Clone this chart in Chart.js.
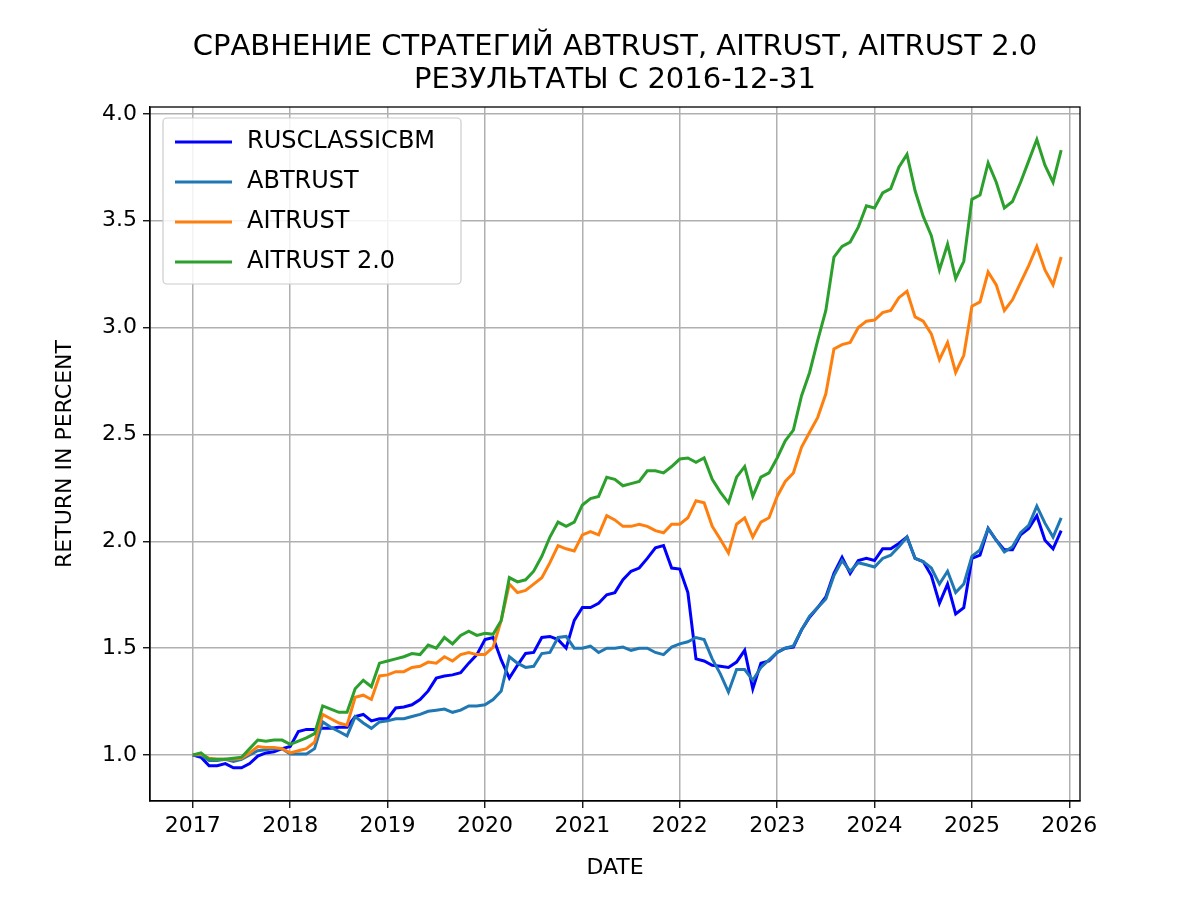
<!DOCTYPE html>
<html><head><meta charset="utf-8">
<script src="https://cdn.jsdelivr.net/npm/chart.js@4.4.1/dist/chart.umd.min.js"></script>
<style>body{margin:0;background:#fff}canvas{display:block}</style>
</head><body>
<canvas id="c" width="1200" height="900"></canvas>
<script>
const startYear = 2017; // first point 2016-12-31, monthly
const xTicks = [2017,2018,2019,2020,2021,2022,2023,2024,2025,2026];
const yTicks = [1.0,1.5,2.0,2.5,3.0,3.5,4.0];
const titleLines = ["СРАВНЕНИЕ СТРАТЕГИЙ ABTRUST, AITRUST, AITRUST 2.0","РЕЗУЛЬТАТЫ С 2016-12-31"];
const seriesNames = ["RUSCLASSICBM","ABTRUST","AITRUST","AITRUST 2.0"];
const rusclassic = [
1.0,0.99,0.95,0.95,0.96,0.94,0.94,0.96,0.995,1.01,1.015,1.03,
1.04,1.11,1.12,1.12,1.125,1.125,1.13,1.13,1.18,1.19,1.16,1.17,
1.17,1.22,1.225,1.235,1.26,1.30,1.36,1.37,1.375,1.385,1.43,1.47,
1.54,1.55,1.445,1.36,1.42,1.475,1.48,1.55,1.555,1.54,1.50,1.63,
1.69,1.69,1.71,1.75,1.76,1.82,1.86,1.875,1.92,1.97,1.98,1.875,
1.87,1.76,1.45,1.44,1.42,1.415,1.41,1.435,1.49,1.31,1.43,1.44,
1.48,1.50,1.505,1.585,1.645,1.69,1.74,1.85,1.925,1.85,1.91,1.92,
1.91,1.965,1.965,1.99,2.02,1.92,1.905,1.84,1.71,1.80,1.66,1.69,
1.92,1.935,2.06,2.005,1.96,1.96,2.03,2.06,2.12,2.005,1.965,2.05];
const abtrust = [
1.0,1.0,0.975,0.975,0.98,0.97,0.98,1.0,1.02,1.025,1.03,1.03,
1.005,1.005,1.005,1.03,1.155,1.13,1.11,1.09,1.18,1.15,1.125,1.155,
1.16,1.17,1.17,1.18,1.19,1.205,1.21,1.215,1.20,1.21,1.23,1.23,
1.235,1.26,1.30,1.46,1.43,1.41,1.415,1.475,1.48,1.55,1.555,1.50,
1.50,1.51,1.48,1.50,1.50,1.505,1.49,1.50,1.50,1.48,1.47,1.505,
1.52,1.53,1.55,1.54,1.45,1.38,1.295,1.40,1.40,1.35,1.41,1.445,
1.48,1.50,1.51,1.585,1.65,1.69,1.73,1.84,1.91,1.86,1.90,1.89,
1.88,1.92,1.935,1.975,2.02,1.92,1.905,1.875,1.80,1.86,1.76,1.80,
1.93,1.96,2.06,2.005,1.95,1.975,2.04,2.075,2.165,2.085,2.02,2.11];
const aitrust = [
1.0,1.005,0.985,0.98,0.98,0.98,0.985,1.01,1.04,1.035,1.035,1.03,
1.01,1.02,1.03,1.06,1.19,1.17,1.15,1.14,1.27,1.28,1.26,1.37,
1.375,1.39,1.39,1.41,1.415,1.435,1.43,1.46,1.44,1.47,1.48,1.47,
1.47,1.505,1.63,1.80,1.76,1.77,1.80,1.83,1.90,1.98,1.965,1.955,
2.03,2.045,2.03,2.12,2.10,2.07,2.07,2.08,2.07,2.05,2.04,2.08,
2.08,2.11,2.19,2.18,2.07,2.01,1.945,2.08,2.11,2.02,2.09,2.11,
2.21,2.28,2.32,2.44,2.51,2.58,2.69,2.90,2.92,2.93,3.00,3.03,
3.035,3.07,3.08,3.14,3.17,3.05,3.03,2.97,2.85,2.93,2.79,2.87,
3.10,3.12,3.26,3.20,3.08,3.13,3.21,3.29,3.38,3.27,3.20,3.33];
const aitrust2 = [
1.0,1.01,0.98,0.98,0.98,0.985,0.99,1.03,1.07,1.065,1.07,1.07,
1.05,1.065,1.08,1.10,1.23,1.215,1.20,1.20,1.31,1.35,1.32,1.43,
1.44,1.45,1.46,1.475,1.47,1.515,1.50,1.55,1.52,1.56,1.58,1.56,
1.57,1.565,1.63,1.83,1.81,1.82,1.86,1.93,2.02,2.09,2.07,2.09,
2.17,2.20,2.21,2.30,2.29,2.26,2.27,2.28,2.33,2.33,2.32,2.35,
2.385,2.39,2.37,2.39,2.29,2.23,2.18,2.30,2.35,2.21,2.30,2.32,
2.39,2.47,2.52,2.68,2.79,2.94,3.08,3.33,3.38,3.40,3.47,3.57,
3.56,3.63,3.65,3.75,3.81,3.64,3.52,3.43,3.27,3.39,3.23,3.31,
3.60,3.62,3.77,3.68,3.56,3.59,3.68,3.78,3.88,3.76,3.68,3.83];
const colors = ["#0000ff","#1f77b4","#ff7f0e","#2ca02c"];
const allSeries = [rusclassic, abtrust, aitrust, aitrust2];

const FONT = "'DejaVu Sans', sans-serif";
const toPts = arr => arr.map((v,i)=>({x: startYear + i/12, y: v}));

const frameLegend = {
  id:'frameLegend',
  afterDraw(chart){
    const {ctx, chartArea:a} = chart;
    ctx.save();
    ctx.strokeStyle='#000'; ctx.lineWidth=1.3;
    ctx.strokeRect(a.left, a.top, a.right-a.left, a.bottom-a.top);
    // title
    const cx = (a.left+a.right)/2;
    ctx.fillStyle='#000'; ctx.textAlign='center'; ctx.textBaseline='middle';
    ctx.font = "29px "+FONT;
    ctx.fillText(titleLines[0], cx, 47);
    ctx.fillText(titleLines[1], cx, 80);
    // y axis title
    ctx.save();
    ctx.translate(65, (a.top+a.bottom)/2); ctx.rotate(-Math.PI/2);
    ctx.font = "22px "+FONT;
    ctx.fillText("RETURN IN PERCENT", 0, 0);
    ctx.restore();
    // legend
    ctx.textAlign='left';
    const lx=a.left+13, ly=a.top+11, w=298, h=166;
    ctx.fillStyle='rgba(255,255,255,0.85)';
    ctx.strokeStyle='#cccccc'; ctx.lineWidth=1.2;
    ctx.beginPath(); ctx.roundRect(lx,ly,w,h,4); ctx.fill(); ctx.stroke();
    ctx.font = "24px "+FONT; ctx.fillStyle='#000';
    seriesNames.forEach((n,i)=>{
      const y = ly+24+i*40;
      ctx.strokeStyle=colors[i]; ctx.lineWidth=3;
      ctx.beginPath(); ctx.moveTo(lx+12,y); ctx.lineTo(lx+69,y); ctx.stroke();
      ctx.fillText(n, lx+84, y);
    });
    ctx.restore();
  }
};

new Chart(document.getElementById('c'), {
  type:'line',
  data:{datasets: seriesNames.map((n,i)=>({
    label:n, data: toPts(allSeries[i]), borderColor: colors[i], backgroundColor: colors[i],
    borderWidth:3, pointRadius:0, tension:0, order: 4-i
  }))},
  options:{
    responsive:false, animation:false, devicePixelRatio:1,
    layout:{padding:{left:0,right:120,top:107,bottom:0}},
    plugins:{ legend:{display:false}, tooltip:{enabled:false}, title:{display:false} },
    scales:{
      x:{type:'linear', min:2016.56, max:2026.11,
        afterBuildTicks: s=>{ s.ticks = xTicks.map(v=>({value:v})); },
        afterFit: s=>{ s.height = 99; },
        ticks:{color:'#000', font:{family:FONT,size:22}, padding:5, maxRotation:0, callback:v=>String(v)},
        grid:{color:'#b0b0b0', lineWidth:1.5, tickLength:7, tickColor:'#000', tickWidth:1.3},
        border:{color:'#000', width:1.3},
        title:{display:true, text:'DATE', color:'#000', font:{family:FONT,size:22}, padding:{top:0,bottom:19}}
      },
      y:{type:'linear', min:0.785, max:4.032,
        afterBuildTicks: s=>{ s.ticks = yTicks.map(v=>({value:v})); },
        afterFit: s=>{ s.width = 150; },
        ticks:{color:'#000', font:{family:FONT,size:22}, padding:6, callback:v=>v.toFixed(1)},
        grid:{color:'#b0b0b0', lineWidth:1.5, tickLength:7, tickColor:'#000', tickWidth:1.3},
        border:{color:'#000', width:1.3}
      }
    }
  },
  plugins:[frameLegend]
});
</script>
</body></html>
